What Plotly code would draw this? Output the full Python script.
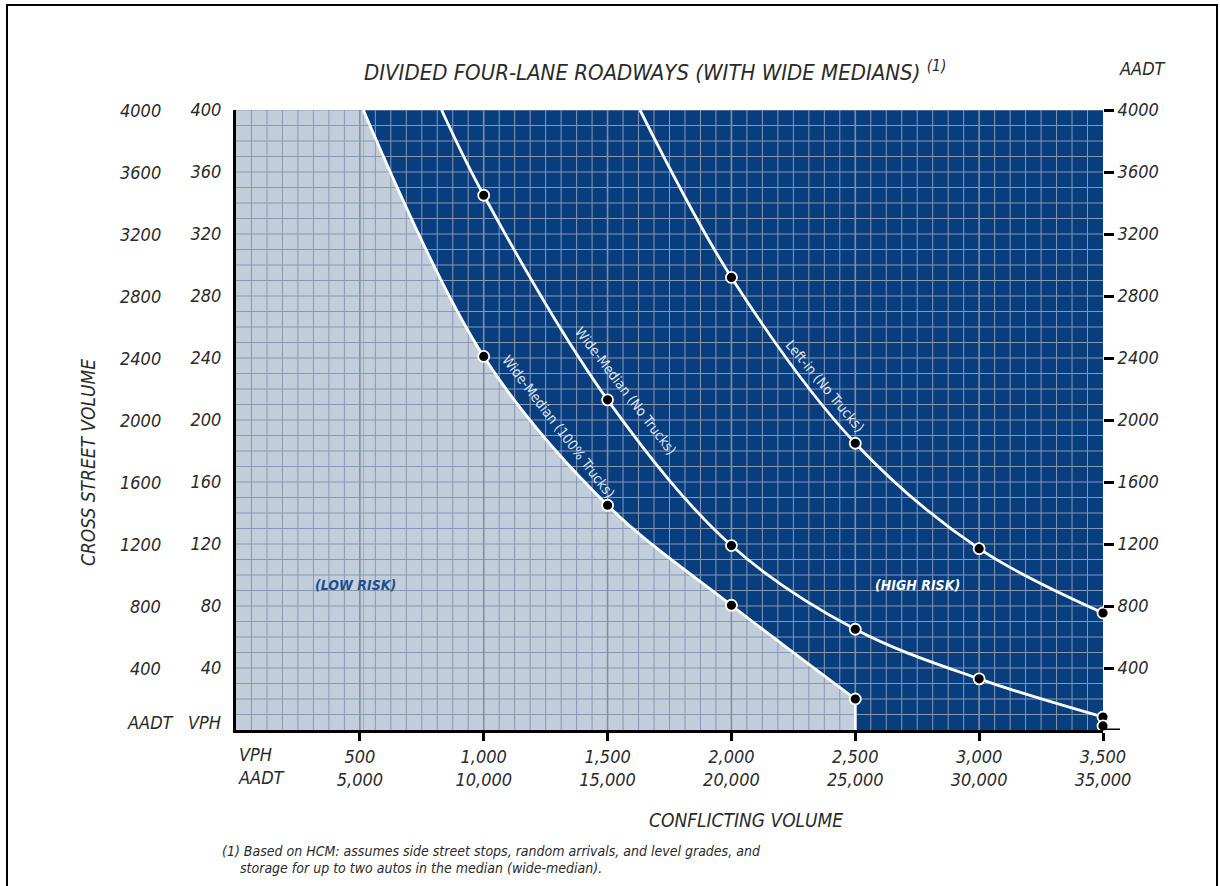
import numpy as np
import plotly.graph_objects as go

# ---------------- data (VPH units) ----------------
trucks100_x = [514, 1000, 1500, 2000, 2500]
trucks100_y = [400, 241, 145, 80.5, 20]

notrucks_x = [830, 1000, 1500, 2000, 2500, 3000, 3500]
notrucks_y = [400, 345, 213, 119, 65, 33, 8.4]

leftin_x = [1631, 2000, 2500, 3000, 3500]
leftin_y = [400, 292, 185, 117, 75.5]

extra_x = [3500]
extra_y = [2.6]

x_ticks = [500, 1000, 1500, 2000, 2500, 3000, 3500]
x_tick_vph = ["500", "1,000", "1,500", "2,000", "2,500", "3,000", "3,500"]
x_tick_aadt = ["5,000", "10,000", "15,000", "20,000", "25,000", "30,000", "35,000"]

y_ticks = [40, 80, 120, 160, 200, 240, 280, 320, 360, 400]
y_tick_vph = ["40", "80", "120", "160", "200", "240", "280", "320", "360", "400"]
y_tick_aadt = ["400", "800", "1200", "1600", "2000", "2400", "2800", "3200", "3600", "4000"]

# ---------------- style ----------------
FONT = "Liberation Sans Narrow, DejaVu Sans Condensed, Arial Narrow, Liberation Sans, sans-serif"
TXT = "#2a2a2a"
LIGHT = "#c3cedd"
DARK = "#083d7e"
XMAX, YMAX = 3500, 400

fig = go.Figure()

# light (low risk) region
fig.add_trace(go.Scatter(x=[0, trucks100_x[0]], y=[YMAX, YMAX], mode="lines",
                         line=dict(width=0), fill="tozeroy", fillcolor=LIGHT,
                         hoverinfo="skip", showlegend=False))
fig.add_trace(go.Scatter(x=trucks100_x, y=trucks100_y, mode="lines",
                         line=dict(width=0, shape="spline"), fill="tozeroy", fillcolor=LIGHT,
                         hoverinfo="skip", showlegend=False))

# grid (drawn over fills)
gx, gy = [], []
for xv in np.arange(0, XMAX + 0.1, 62.5):
    if xv % 500 != 0:
        gx += [xv, xv, None]; gy += [0, YMAX, None]
for yv in np.arange(10, YMAX + 0.1, 10):
    gx += [0, XMAX, None]; gy += [yv, yv, None]
fig.add_trace(go.Scatter(x=gx, y=gy, mode="lines", line=dict(color="#8798b2", width=1),
                         hoverinfo="skip", showlegend=False))
mx, my = [], []
for xv in range(500, XMAX, 500):
    mx += [xv, xv, None]; my += [0, YMAX, None]
fig.add_trace(go.Scatter(x=mx, y=my, mode="lines", line=dict(color="#858e9c", width=1.6),
                         hoverinfo="skip", showlegend=False))

# white curves
for xs, ys in [(trucks100_x, trucks100_y), (notrucks_x, notrucks_y), (leftin_x, leftin_y)]:
    fig.add_trace(go.Scatter(x=xs, y=ys, mode="lines", line=dict(color="white", width=2.8, shape="spline"),
                             hoverinfo="skip", showlegend=False))
# vertical edge of low-risk area
fig.add_trace(go.Scatter(x=[trucks100_x[-1], trucks100_x[-1]], y=[trucks100_y[-1], 0], mode="lines",
                         line=dict(color="white", width=2.8), hoverinfo="skip", showlegend=False))

# markers
mk = dict(color="black", size=11, line=dict(color="white", width=1.8))
for xs, ys in [(trucks100_x[1:], trucks100_y[1:]), (notrucks_x[1:], notrucks_y[1:]),
               (leftin_x[1:], leftin_y[1:]), (extra_x, extra_y)]:
    fig.add_trace(go.Scatter(x=xs, y=ys, mode="markers", marker=mk, cliponaxis=False,
                             showlegend=False))

# dummy trace for right axis
fig.add_trace(go.Scatter(x=[0], y=[0], yaxis="y2", mode="markers", marker=dict(opacity=0),
                         hoverinfo="skip", showlegend=False))

def px2x(px):
    return (px - 236) / 867.0

def py2y(py):
    return (730 - py) / 620.0

def f(size, color=TXT):
    return dict(family=FONT, size=size, color=color, style="italic")

ann = []
# left AADT column
for v, t in zip(y_ticks, y_tick_aadt):
    ann.append(dict(x=px2x(163), xref="paper", y=v, yref="y", text=t, showarrow=False,
                    xanchor="right", yanchor="middle", font=f(18)))
ann.append(dict(x=px2x(176), xref="paper", y=5, yref="y", text="AADT", showarrow=False,
                xanchor="right", yanchor="middle", font=f(18)))
ann.append(dict(x=px2x(223), xref="paper", y=5, yref="y", text="VPH", showarrow=False,
                xanchor="right", yanchor="middle", font=f(18)))
# bottom-left VPH / AADT
ann.append(dict(x=px2x(236), xref="paper", y=py2y(742), yref="paper", text="VPH<br>AADT", showarrow=False,
                xanchor="left", yanchor="top", align="left", font=f(18)))
# title
ann.append(dict(x=px2x(655), xref="paper", y=py2y(71), yref="paper",
                text="DIVIDED FOUR-LANE ROADWAYS (WITH WIDE MEDIANS) <sup>(1)</sup>", showarrow=False,
                xanchor="center", yanchor="middle", font=f(22)))
ann.append(dict(x=px2x(1117), xref="paper", y=py2y(68), yref="paper", text="AADT", showarrow=False,
                xanchor="left", yanchor="middle", font=f(18)))
# axis titles
ann.append(dict(x=px2x(746), xref="paper", y=py2y(820), yref="paper", text="CONFLICTING VOLUME", showarrow=False,
                xanchor="center", yanchor="middle", font=f(19)))
ann.append(dict(x=px2x(88), xref="paper", y=py2y(463), yref="paper", text="CROSS STREET VOLUME", showarrow=False,
                textangle=-90, xanchor="center", yanchor="middle", font=f(19)))
# footnote
ann.append(dict(x=px2x(220), xref="paper", y=py2y(851), yref="paper",
                text="(1) Based on HCM: assumes side street stops, random arrivals, and level grades, and",
                showarrow=False, xanchor="left", yanchor="middle", font=f(14)))
ann.append(dict(x=px2x(238), xref="paper", y=py2y(868), yref="paper",
                text="storage for up to two autos in the median (wide-median).",
                showarrow=False, xanchor="left", yanchor="middle", font=f(14)))
# risk labels
ann.append(dict(x=484, y=93.5, text="<b>(LOW RISK)</b>", showarrow=False, font=f(14, "#1d4e8f")))
ann.append(dict(x=2753, y=93.5, text="<b>(HIGH RISK)</b>", showarrow=False, font=f(14, "white")))
# curve labels
lab_font = dict(family=FONT, size=14, color="#dfe6f0")
ann.append(dict(x=1300, y=196, text="Wide-Median (100% Trucks)", textangle=52.7, showarrow=False, font=lab_font))
ann.append(dict(x=1575, y=219, text="Wide-Median (No Trucks)", textangle=52.6, showarrow=False, font=lab_font))
ann.append(dict(x=2378, y=222, text="Left-in (No Trucks)", textangle=50.4, showarrow=False, font=lab_font))

shapes = [
    dict(type="rect", xref="paper", yref="paper", x0=px2x(7), x1=px2x(1217), y0=py2y(5), y1=py2y(900),
         line=dict(color="black", width=2), fillcolor="rgba(0,0,0,0)", layer="above"),
    # right-axis tick at zero (continuation of the base line)
    dict(type="line", xref="paper", yref="y", x0=1, x1=px2x(1120), y0=0, y1=0,
         line=dict(color="black", width=3), layer="above"),
]

fig.update_layout(
    width=1220, height=886, autosize=False,
    margin=dict(l=236, r=117, t=110, b=156, pad=0),
    paper_bgcolor="white", plot_bgcolor=DARK,
    showlegend=False,
    font=dict(family=FONT, color=TXT),
    annotations=ann, shapes=shapes,
    xaxis=dict(range=[0, XMAX], showgrid=False, zeroline=False, showline=True, linecolor="black", linewidth=3,
               ticks="outside", ticklen=8, tickwidth=3, tickcolor="black",
               tickvals=x_ticks, ticktext=[a + "<br>" + b for a, b in zip(x_tick_vph, x_tick_aadt)],
               tickfont=f(18), fixedrange=True),
    yaxis=dict(range=[0, YMAX], showgrid=False, zeroline=False, showline=True, linecolor="black", linewidth=3,
               ticks="", tickvals=y_ticks, ticktext=y_tick_vph, ticklabelstandoff=8,
               tickfont=f(18), fixedrange=True),
    yaxis2=dict(range=[0, YMAX], overlaying="y", side="right", showgrid=False, zeroline=False, showline=False,
                ticks="outside", ticklen=10, tickwidth=3, tickcolor="black",
                tickvals=y_ticks, ticktext=y_tick_aadt,
                tickfont=f(18), fixedrange=True),
)

fig.write_html("out.html", config={"displayModeBar": False},
               post_script="document.body.style.margin='0';")
